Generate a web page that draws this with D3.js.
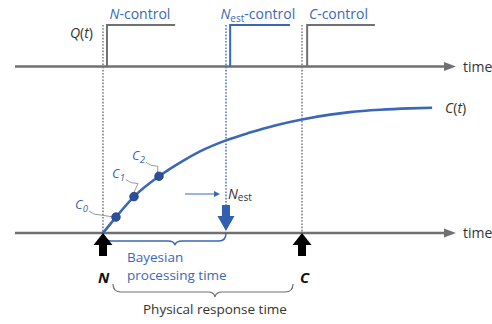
<!DOCTYPE html>
<html>
<head>
<meta charset="utf-8">
<script src="https://cdn.jsdelivr.net/npm/d3@7"></script>
<style>
  html, body { margin: 0; padding: 0; background: #fff; }
  svg { display: block; }
  text { font-family: "Open Sans", sans-serif; }
</style>
</head>
<body>
<svg id="chart" width="492" height="324"></svg>
<script>
// Event times on a shared time axis (arbitrary units, 0..100)
const eventNames = ["N", "Nest", "C"];
const eventTimes = [20, 47.95, 65.23];

// Control pulses Q(t): start and end of each step, and its level
const pulseNames = ["N-control", "Nest-control", "C-control"];
const pulseStart = [20.9, 48.9, 66.4];
const pulseEnd = [36.4, 62.5, 81.8];
const pulseLevel = [1, 1, 1];

// Response curve C(t), normalised to its plateau
const curveTimes = [20, 22.95, 27.05, 32.73, 38.18, 42.05, 47.95, 53.4, 59.1, 65.23, 71.6, 76.1, 82.95, 89.8, 94.8];
const curveValues = [0, 0.127, 0.29, 0.452, 0.575, 0.65, 0.738, 0.80, 0.857, 0.905, 0.943, 0.963, 0.982, 0.993, 0.998];

// Sampled concentrations C0, C1, C2
const sampleLabels = ["0", "1", "2"];
const sampleTimes = [22.95, 27.05, 32.73];
const sampleValues = [0.127, 0.29, 0.452];

const blue = "#3a68b8";
const darkBlue = "#2b4f9c";
const gray = "#707070";
const ink = "#333333";

const svg = d3.select("#chart");
const x = d3.scaleLinear().domain([0, 100]).range([15, 455]);
const yQ = d3.scaleLinear().domain([0, 1]).range([66.5, 25]);
const yC = d3.scaleLinear().domain([0, 1]).range([233, 107.5]);

// Horizontal time axes with arrowheads
function timeAxis(y) {
  const g = svg.append("g");
  g.append("line").attr("x1", x(0)).attr("x2", x(100) - 8)
    .attr("y1", y).attr("y2", y).attr("stroke", gray).attr("stroke-width", 2.5);
  g.append("path")
    .attr("d", `M${x(100) - 11},${y - 4.5} L${x(100) + 1},${y} L${x(100) - 11},${y + 4.5} Z`)
    .attr("fill", gray);
  g.append("text").attr("x", x(100) + 8).attr("y", y + 5)
    .attr("font-size", 14).attr("fill", ink).text("time");
}

// Vertical dotted guides at each event
const guideColor = [gray, blue, gray];
const guideBottom = [yC(0), 206, yC(0)];
eventTimes.forEach((t, i) => {
  svg.append("line")
    .attr("x1", x(t)).attr("x2", x(t))
    .attr("y1", yQ(1)).attr("y2", guideBottom[i])
    .attr("stroke", guideColor[i]).attr("stroke-width", 1.4)
    .attr("stroke-dasharray", "1.6,1.6");
});

timeAxis(yQ(0));
timeAxis(yC(0));

// Control pulses
const pulseColor = [gray, blue, gray];
pulseStart.forEach((t0, i) => {
  svg.append("path")
    .attr("d", `M${x(t0)},${yQ(0)} V${yQ(pulseLevel[i])} H${x(pulseEnd[i])}`)
    .attr("fill", "none").attr("stroke", pulseColor[i]).attr("stroke-width", 2);
});

// Pulse labels
function controlLabel(t, sub, name) {
  const tx = svg.append("text").attr("x", x(t)).attr("y", 19)
    .attr("font-size", 14).attr("fill", blue);
  tx.append("tspan").attr("font-style", "italic").text(name);
  if (sub) tx.append("tspan").attr("font-size", 10).attr("dy", 3).text(sub);
  tx.append("tspan").attr("dy", sub ? -3 : 0).text("-control");
}
controlLabel(pulseStart[0] + 0.6, null, "N");
controlLabel(pulseStart[1] - 2.2, "est", "N");
controlLabel(pulseStart[2] + 0.4, null, "C");

// Q(t) label
const q = svg.append("text").attr("x", 93).attr("y", 38).attr("text-anchor", "end")
  .attr("font-size", 14).attr("fill", ink);
q.append("tspan").attr("font-style", "italic").text("Q");
q.append("tspan").text("(");
q.append("tspan").attr("font-style", "italic").text("t");
q.append("tspan").text(")");

// Response curve
const line = d3.line().x((d, i) => x(curveTimes[i])).y(d => yC(d)).curve(d3.curveMonotoneX);
svg.append("path").datum(curveValues).attr("d", line)
  .attr("fill", "none").attr("stroke", blue).attr("stroke-width", 2.6);

const ct = svg.append("text").attr("x", 445).attr("y", 113)
  .attr("font-size", 14).attr("fill", ink);
ct.append("tspan").attr("font-style", "italic").text("C");
ct.append("tspan").text("(");
ct.append("tspan").attr("font-style", "italic").text("t");
ct.append("tspan").text(")");

// Sample leaders, labels and dots
const labelDx = [-41, -22, -27];
const labelDy = [-5, -16, -13];
sampleTimes.forEach((t, i) => {
  const px = x(t), py = yC(sampleValues[i]);
  const lx = px + labelDx[i], ly = py + labelDy[i];
  svg.append("path")
    .attr("d", `M${lx + 14},${ly - 1} Q${lx + 18},${ly + 3} ${lx + 26},${ly + 3} L${px - 2},${py}`)
    .attr("fill", "none").attr("stroke", "#9a9a9a").attr("stroke-width", 1);
  const tx = svg.append("text").attr("x", lx).attr("y", ly - 3)
    .attr("font-size", 13).attr("fill", blue).attr("font-style", "italic");
  tx.append("tspan").text("C");
  tx.append("tspan").attr("font-size", 9.5).attr("dy", 3).text(sampleLabels[i]);
});
svg.selectAll("circle.sample").data(sampleTimes).enter().append("circle")
  .attr("class", "sample")
  .attr("cx", t => x(t)).attr("cy", (t, i) => yC(sampleValues[i]))
  .attr("r", 4.3).attr("fill", darkBlue).attr("stroke", "#1f3f80").attr("stroke-width", 0.8);

// N_est pointer and label
const nx = x(eventTimes[1]);
svg.append("line").attr("x1", nx - 41).attr("x2", nx - 9).attr("y1", 194).attr("y2", 194)
  .attr("stroke", blue).attr("stroke-width", 1.2);
svg.append("path").attr("d", `M${nx - 6},194 L${nx - 12},191 L${nx - 12},197 Z`).attr("fill", blue);
const ne = svg.append("text").attr("x", nx + 2).attr("y", 199)
  .attr("font-size", 14).attr("fill", ink);
ne.append("tspan").attr("font-style", "italic").text("N");
ne.append("tspan").attr("font-size", 10).attr("dy", 2).text("est");

// Bayesian processing brace (behind the arrows)
const nX = x(eventTimes[0]), cX = x(eventTimes[2]);
const by = 241;
svg.append("path")
  .attr("d", `M${nX},${yC(0)} Q${nX},${by} ${nX + 8},${by} H${168} Q${174},${by} ${175},${by + 4} Q${176},${by} ${182},${by} H${nx - 7} Q${nx},${by} ${nx},${yC(0)}`)
  .attr("fill", "none").attr("stroke", blue).attr("stroke-width", 1.4);

// Big blue down arrow at N_est
svg.append("path")
  .attr("d", `M${nx - 4},205 H${nx + 4} V216 H${nx + 8.5} L${nx},${yC(0) - 2} L${nx - 8.5},216 H${nx - 4} Z`)
  .attr("fill", "#2f5fae");

// Black up arrows at N and C
[nX, cX].forEach(ax => {
  svg.append("path")
    .attr("d", `M${ax},${yC(0)} L${ax + 9.5},245 H${ax + 4} V256 H${ax - 4} V245 H${ax - 9.5} Z`)
    .attr("fill", "#000");
});

// Bayesian processing time label
const bt = svg.append("text").attr("font-size", 13.5).attr("fill", blue);
bt.append("tspan").attr("x", 127).attr("y", 262).text("Bayesian");
bt.append("tspan").attr("x", 127).attr("y", 280).text("processing time");

// N and C event labels
svg.append("text").attr("x", nX - 5).attr("y", 283).attr("font-size", 15)
  .attr("font-weight", "bold").attr("font-style", "italic").attr("fill", "#111").text("N");
svg.append("text").attr("x", cX - 2).attr("y", 283).attr("font-size", 15)
  .attr("font-weight", "bold").attr("font-style", "italic").attr("fill", "#111").text("C");

// Physical response brace and label
const py0 = 284, py1 = 292;
svg.append("path")
  .attr("d", `M${113},${py0} Q${113},${py1} ${121},${py1} H${208} Q${214},${py1} ${215},${py1 + 5} Q${216},${py1} ${222},${py1} H${285} Q${293},${py1} ${293},${py0}`)
  .attr("fill", "none").attr("stroke", gray).attr("stroke-width", 1.2);
svg.append("text").attr("x", 143).attr("y", 314).attr("font-size", 13.5).attr("fill", ink)
  .text("Physical response time");
</script>
</body>
</html>
